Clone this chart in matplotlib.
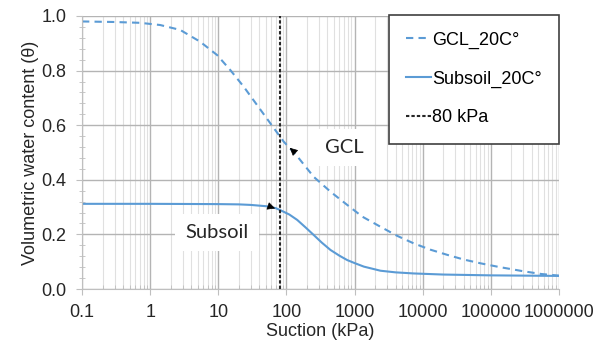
import matplotlib
matplotlib.use("Agg")
import matplotlib.pyplot as plt
from matplotlib.ticker import LogLocator, FixedLocator, MultipleLocator, FormatStrFormatter

# suction (kPa) and volumetric water content
gcl_suction = [0.1, 0.3, 0.71, 1.4, 2.76, 5.4, 9.6, 15, 23.6, 37, 58, 91, 140,
               251, 450, 780, 1300, 2400, 4200, 7400, 13000, 23000, 40000,
               71000, 130000, 300000, 550000, 1000000]
gcl_theta = [0.98, 0.978, 0.975, 0.967, 0.949, 0.906, 0.857, 0.802, 0.741, 0.674,
             0.607, 0.54, 0.49, 0.411, 0.355, 0.308, 0.265, 0.228, 0.195, 0.167,
             0.144, 0.125, 0.108, 0.094, 0.081, 0.065, 0.055, 0.049]

sub_suction = [0.1, 1, 10, 20, 30, 52, 70, 81, 110, 144, 190, 251, 330, 443,
               600, 780, 1000, 1370, 2400, 4000, 7400, 20000, 100000, 1000000]
sub_theta = [0.312, 0.312, 0.311, 0.31, 0.308, 0.303, 0.296, 0.289, 0.273, 0.253,
             0.226, 0.198, 0.17, 0.143, 0.122, 0.106, 0.095, 0.082, 0.067, 0.061,
             0.057, 0.053, 0.05, 0.048]

cutoff = 80
x_ticks = [0.1, 1, 10, 100, 1000, 10000, 100000, 1000000]
x_labels = ["0.1", "1", "10", "100", "1000", "10000", "100000", "1000000"]

blue = "#5B9BD5"
plt.rcParams['font.family'] = ['Liberation Sans', 'DejaVu Sans']

fig = plt.figure(figsize=(6.04, 3.47), dpi=100)
ax = fig.add_axes([0.1358, 0.1671, 0.7897, 0.7868])

ax.plot(gcl_suction, gcl_theta, color=blue, lw=1.5, dashes=(3.5, 2.5), label="GCL_20C°")
ax.plot(sub_suction, sub_theta, color=blue, lw=1.5, label="Subsoil_20C°")
ax.axvline(cutoff, color="#262626", lw=1.5, dashes=(1.6, 1.0), label="80 kPa")

ax.set_xscale("log")
ax.set_xlim(0.1, 1000000)
ax.set_ylim(0, 1.0)
ax.xaxis.set_major_locator(FixedLocator(x_ticks))
ax.set_xticklabels(x_labels)
ax.xaxis.set_minor_locator(LogLocator(base=10, subs=range(2, 10), numticks=20))
ax.yaxis.set_major_locator(MultipleLocator(0.2))
ax.yaxis.set_minor_locator(MultipleLocator(0.04))
ax.yaxis.set_major_formatter(FormatStrFormatter("%.1f"))

# grid
ax.grid(which="major", color="#b4b4b4", lw=1.0)
ax.grid(which="minor", axis="x", color="#e0e0e0", lw=0.8)
ax.set_axisbelow(True)

for s in ["top", "right"]:
    ax.spines[s].set_visible(False)
for s in ["left", "bottom"]:
    ax.spines[s].set_color("#bfbfbf")

ax.tick_params(which="major", labelsize=13, colors="#bfbfbf", labelcolor="#262626", length=4)
ax.tick_params(axis="x", which="major", pad=7)
ax.tick_params(axis="y", which="major", pad=7)
ax.tick_params(which="minor", colors="#bfbfbf", length=3, direction="in")
ax.tick_params(axis="y", which="minor", direction="inout", length=4)

ax.set_xlabel("Suction (kPa)", fontsize=13, color="#262626", labelpad=1)
ax.set_ylabel("Volumetric water content (θ)", fontsize=13, color="#262626", labelpad=2)

leg = ax.legend(loc="upper right", bbox_to_anchor=(1.0, 1.005), borderaxespad=0,
                fontsize=13, handlelength=1.4, handletextpad=0.05, labelspacing=1.2,
                borderpad=0.95, fancybox=False, framealpha=1)
leg.get_frame().set_edgecolor("#404040")
leg.get_frame().set_linewidth(1.2)

# labels with small arrow heads
box = dict(boxstyle="square,pad=0.5", fc="white", ec="none")
ax.text(713, 0.519, "GCL", family="Lato", fontsize=14.5, ha="center", va="center",
        color="#262626", bbox=box, zorder=4)
ax.text(9.6, 0.208, "Subsoil", family="Lato", fontsize=14.5, ha="center", va="center",
        color="#262626", bbox=box, zorder=4)
arrow = dict(arrowstyle="-|>", color="black", lw=0.5, mutation_scale=12)
ax.annotate("", xy=(104.5, 0.524), xytext=(140, 0.495), arrowprops=arrow, zorder=5)
ax.annotate("", xy=(74.5, 0.292), xytext=(53.8, 0.304), arrowprops=arrow, zorder=5)

fig.savefig("out.png", dpi=100)
